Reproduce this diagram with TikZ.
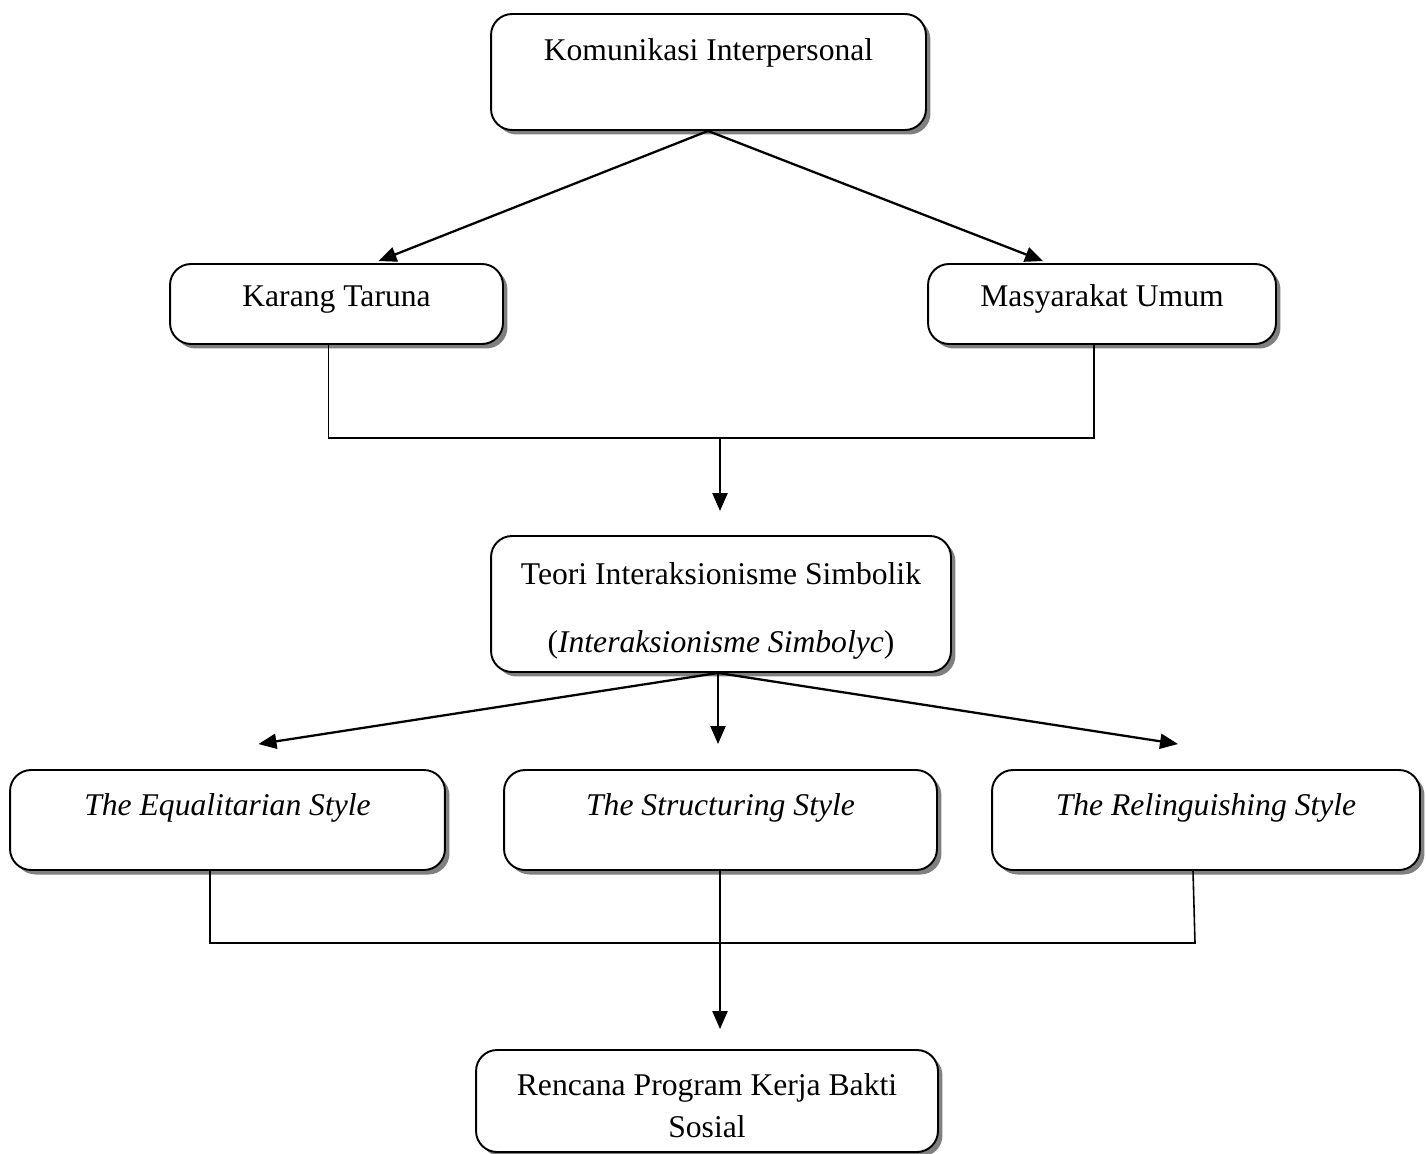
\documentclass[tikz,border=0pt]{standalone}
\usepackage{fontspec}
\setmainfont{Liberation Serif}
\usetikzlibrary{arrows.meta,shadows,calc}
\begin{document}
\begin{tikzpicture}[x=0.02cm,y=-0.02cm,
  box/.style={draw=black, line width=1.1pt, fill=white, rounded corners=0.42cm,
    inner sep=0pt,
    drop shadow={shadow xshift=0.09cm, shadow yshift=-0.09cm, fill=black!50, opacity=1}},
  txt/.style={anchor=mid, inner sep=0pt, font=\fontsize{18}{22}\selectfont},
  arr/.style={line width=1.3pt, -{Triangle[length=0.36cm,width=0.30cm]}},
  ln/.style={line width=0.9pt}]
\useasboundingbox (0,0) rectangle (1426,1153);
\clip (0,0) rectangle (1426,1153);
% boxes
\node[box, minimum width=8.70cm, minimum height=2.32cm] (K) at (708.5,72) {};
\node[txt] (Kt) at (708.5,56) {Komunikasi Interpersonal};
\node[box, minimum width=6.66cm, minimum height=1.60cm] (KT) at (336.5,304) {};
\node[txt] (KTt) at (336.5,302) {Karang Taruna};
\node[box, minimum width=6.96cm, minimum height=1.60cm] (MU) at (1102,304) {};
\node[txt] (MUt) at (1102,302) {Masyarakat Umum};
\node[box, minimum width=9.20cm, minimum height=2.72cm] (T) at (721,604) {};
\node[txt] (Tt1) at (721,580) {Teori Interaksionisme Simbolik};
\node[txt] (Tt2) at (721,648) {(\textit{Interaksionisme Simbolyc})};
\node[box, minimum width=8.70cm, minimum height=2.00cm] (E) at (227.5,820) {};
\node[txt] (Et) at (227.5,811) {\textit{The Equalitarian Style}};
\node[box, minimum width=8.66cm, minimum height=2.00cm] (S) at (720.5,820) {};
\node[txt] (St) at (720.5,811) {\textit{The Structuring Style}};
\node[box, minimum width=8.56cm, minimum height=2.00cm] (R) at (1206,820) {};
\node[txt] (Rt) at (1206,811) {\textit{The Relinguishing Style}};
\node[box, minimum width=9.24cm, minimum height=2.04cm] (RP) at (707,1101) {};
\node[txt] (RPt1) at (707,1091) {Rencana Program Kerja Bakti};
\node[txt] (RPt2) at (707,1133) {Sosial};
% top arrows
\coordinate (k0) at ($(K.south)+(-0.5,0)$);
\draw[arr] (k0) -- ($(KT.north)+(42,-2)$);
\draw[arr] (k0) -- ($(MU.north)+(-59,-2)$);
% first bracket
\coordinate (j1) at (720,438);
\draw[ln] ($(KT.south)+(-8,0)$) |- (j1) -| ($(MU.south)+(-8,0)$);
\draw[arr] (j1) -- ($(T.north)+(-1,-24)$);
% Teori arrows
\coordinate (t0) at ($(T.south)+(-3,0)$);
\draw[arr] (t0) -- ($(E.north)+(31,-25)$);
\draw[arr] (t0) -- ($(S.north)+(-2.5,-25)$);
\draw[arr] (t0) -- ($(R.north)+(-28,-25)$);
% second bracket
\coordinate (j2) at (720,943);
\draw[ln] ($(E.south)+(-17.5,0)$) |- (j2) -- (1195,943) -- ($(R.south)+(-13,0)$);
\draw[arr] ($(S.south)+(-0.5,0)$) -- ($(RP.north)+(13,-20)$);
\end{tikzpicture}
\end{document}
